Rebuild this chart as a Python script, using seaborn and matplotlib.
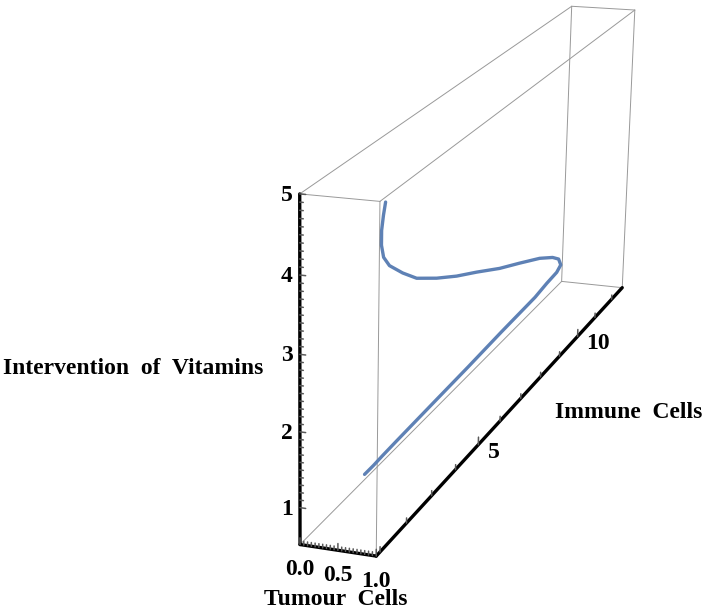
import numpy as np
import matplotlib
matplotlib.use("Agg")
import matplotlib.pyplot as plt
import seaborn as sns
from mpl_toolkits.mplot3d import proj3d

# trajectory
tumour = [1.00, 1.00, 1.00, 1.00, 0.99, 0.95, 0.90, 0.80, 0.62, 0.48, 0.35, 0.22, 0.12, 0.05,
          0.02, 0.01, 0.00, 0.00, 0.00, 0.00, 0.00, 0.00, 0.00, 0.00, 0.00, 0.00, 0.00]
immune = [1.06, 0.99, 0.93, 0.93, 1.04, 1.37, 2.01, 2.85, 4.21, 5.51, 6.85, 8.40, 9.78, 11.13,
          11.99, 12.39, 12.57, 12.34, 11.77, 11.12, 9.31, 7.67, 6.00, 4.49, 3.91, 3.58, 3.22]
vitamins = [4.94, 4.80, 4.63, 4.45, 4.27, 4.07, 3.79, 3.47, 3.06, 2.70, 2.36, 1.96, 1.64, 1.33,
            1.10, 0.96, 0.81, 0.75, 0.73, 0.69, 0.67, 0.64, 0.62, 0.60, 0.59, 0.58, 0.58]

# plot box and ticks
x_range = [0.0, 1.0]
y_range = [0.86, 12.66]
z_range = [0.505, 5.0]
x_major = [0.0, 0.5, 1.0]
x_ticklabels = ["0.0", "0.5", "1.0"]
y_major = [5, 10]
z_major = [1, 2, 3, 4, 5]

# camera matched to the reference view
elev, azim, roll = 20.83, -64.44, 1.64
eye = np.array([10.74, -26.98, 13.11])
focal_px = 2597.0
centre_px = (110.5, 453.2)

sns.set_theme(style="white")
plt.rcParams["font.family"] = ["Liberation Serif", "DejaVu Serif"]
plt.rcParams["font.weight"] = "bold"
plt.rcParams["text.color"] = "black"

W, H = 706, 612
fig = plt.figure(figsize=(W / 100, H / 100), dpi=100)

side = 1260.0
f = focal_px * 0.185 / side
e, a = np.deg2rad(elev), np.deg2rad(azim)
w = np.array([np.cos(e) * np.cos(a), np.cos(e) * np.sin(a), np.sin(e)])
dist = 40.0
target = eye - dist * w
half = 8.0
zoom = (10 * f / dist) * 2 * half * np.sqrt(3) / (1.8294640721620434 * 25 / 24)
left = centre_px[0] - 0.095 / 0.185 * side
bottom = (H - centre_px[1]) - 0.095 / 0.185 * side
ax = fig.add_axes([left / W, bottom / H, side / W, side / H], projection="3d",
                  proj_type="persp", focal_length=f, computed_zorder=False)
ax.set_xlim(target[0] - half, target[0] + half)
ax.set_ylim(target[1] - half, target[1] + half)
ax.set_zlim(target[2] - half, target[2] + half)
ax.set_box_aspect((1, 1, 1), zoom=zoom)
ax.view_init(elev=elev, azim=azim, roll=roll)
ax.set_axis_off()
M = ax.get_proj()

fs = 17


def label(x, y, z, s, **kw):
    # place a flat label at the projected position of a 3D point
    px, py, _ = proj3d.proj_transform(x, y, z, M)
    ax.text2D(px, py, s, transform=ax.transData, fontsize=fs, fontweight="bold", color="black", **kw)


x0, x1 = x_range
y0, y1 = y_range
z0, z1 = z_range

# thin bounding box
grey = "#999999"
for ya in (y0, y1):
    for za in (z0, z1):
        ax.plot([x0, x1], [ya, ya], [za, za], color=grey, lw=0.7)
for xa in (x0, x1):
    for za in (z0, z1):
        ax.plot([xa, xa], [y0, y1], [za, za], color=grey, lw=0.7)
    for ya in (y0, y1):
        ax.plot([xa, xa], [ya, ya], [z0, z1], color=grey, lw=0.7)

# black axes
ax.plot([x0, x0], [y0, y0], [z0, z1], color="black", lw=2.4)
ax.plot([x0, x1], [y0, y0], [z0, z0], color="black", lw=2.4)
ax.plot([x1, x1], [y0, y1], [z0, z0], color="black", lw=2.4)

tick_col = "#5a5a5a"
# vitamins axis
for z in np.arange(1.0, 5.001, 0.1):
    if z < z0:
        continue
    major = abs(z - round(z)) < 1e-6
    ax.plot([x0, x0 + (0.075 if major else 0.045)], [y0, y0], [z, z], color=tick_col, lw=1.1)
for z in z_major:
    label(x0 - 0.09, y0, z, str(z), ha="right", va="center_baseline")

# tumour axis
for x in np.arange(0.0, 1.001, 0.05):
    major = any(abs(x - m) < 1e-6 for m in x_major)
    ax.plot([x, x], [y0, y0], [z0, z0 + (0.09 if major else 0.05)], color=tick_col, lw=1.1)
for x, lab in zip(x_major, x_ticklabels):
    label(x, y0, z0 - 0.31, lab, ha="center", va="center_baseline")

# immune axis
for y in range(1, 13):
    if y < y0 or y > y1:
        continue
    major = y in y_major
    ax.plot([x1, x1], [y, y], [z0, z0 + (0.11 if major else 0.07)], color=tick_col, lw=1.1)
for y in y_major:
    label(x1 + 0.14, y, z0 - 0.06, str(y), ha="left", va="center_baseline")

# axis labels
label(x0 - 0.47, y0, 2.79, "Intervention  of  Vitamins", ha="right", va="center_baseline")
label(x1 + 0.58, 6.7, z0, "Immune  Cells", ha="left", va="center_baseline")
label(0.47, y0, z0 - 0.63, "Tumour  Cells", ha="center", va="center_baseline")

# the trajectory
ax.plot(tumour, immune, vitamins, color="#5E81B5", lw=2.4, solid_joinstyle="round")

fig.savefig("out.png", dpi=100)
